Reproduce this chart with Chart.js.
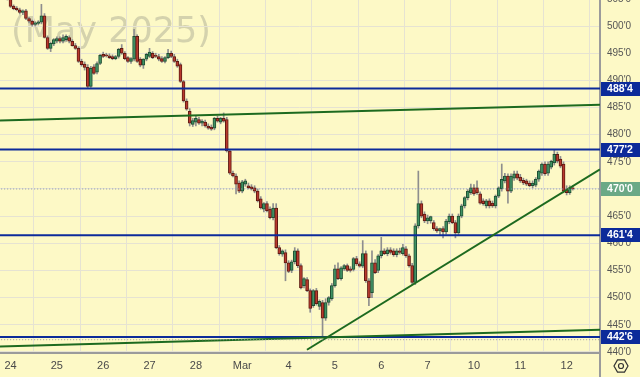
<!DOCTYPE html>
<html>
<head>
<meta charset="utf-8">
<script src="https://cdn.jsdelivr.net/npm/chart.js@4.4.1/dist/chart.umd.min.js"></script>
<style>
  html, body { margin: 0; padding: 0; background: #fdf9c6; }
  canvas { display: block; }
</style>
</head>
<body>
<canvas id="chart" width="640" height="377"></canvas>
<script>
// day labels on the time axis and the bar index where each day starts
const dayLabels = ['24', '25', '26', '27', '28', 'Mar', '4', '5', '6', '7', '10', '11', '12'];
const dayStarts = [3, 18, 33, 48, 63, 78, 93, 108, 123, 138, 153, 168, 183];

// hourly candles
const opens = [
  506.5, 506.0, 505.6, 505.0, 503.7, 503.3, 503.0, 502.5, 502.8, 501.4,
  500.9, 500.3, 500.5, 500.7, 501.9, 497.9, 495.9, 496.7, 497.2, 497.7,
  497.2, 497.5, 497.9, 497.2, 496.4, 495.9, 493.5, 493.0, 492.4, 488.9,
  492.5, 491.5, 493.1, 494.8, 494.7, 494.5, 494.4, 494.0, 494.4, 495.9,
  495.0, 494.2, 493.5, 493.9, 498.1, 493.9, 492.8, 493.9, 494.4, 495.0,
  494.6, 494.4, 494.0, 493.5, 494.2, 495.0, 494.4, 493.5, 492.9, 489.8,
  486.2, 484.3, 481.9, 482.3, 482.8, 482.1, 482.3, 481.6, 481.4, 481.2,
  483.0, 482.3, 483.0, 482.8, 477.0, 472.9, 472.4, 471.1, 469.6, 470.9,
  470.6, 470.4, 470.2, 469.6, 468.2, 466.3, 467.3, 466.3, 464.7, 466.5,
  459.2, 458.0, 458.3, 456.4, 455.0, 456.6, 458.6, 455.9, 452.2, 453.3,
  451.3, 448.5, 451.3, 448.4, 449.1, 446.2, 449.1, 449.8, 452.2, 455.3,
  453.5, 455.3, 455.9, 455.3, 455.2, 457.2, 456.2, 455.8, 458.1, 453.1,
  450.9, 456.4, 455.0, 457.7, 458.6, 458.1, 458.8, 458.6, 457.9, 458.6,
  458.1, 459.0, 457.7, 455.9, 452.8, 463.2, 467.3, 465.4, 464.1, 464.1,
  463.8, 462.7, 462.3, 462.7, 462.1, 464.0, 465.0, 463.8, 461.9, 465.0,
  466.9, 468.4, 469.3, 470.2, 470.2, 469.1, 467.8, 466.9, 467.8, 467.4,
  466.9, 468.7, 470.0, 471.5, 472.4, 469.6, 472.0, 472.8, 472.2, 471.6,
  471.5, 471.1, 470.6, 470.7, 471.8, 472.9, 474.6, 472.9, 474.0, 474.8,
  476.4, 475.5, 474.6, 470.0, 469.3, 470.2
];
const highs = [
  507.2, 506.6, 506.0, 505.3, 503.9, 503.6, 503.3, 503.0, 503.1, 501.6,
  501.1, 500.8, 501.0, 504.0, 502.3, 498.2, 497.0, 497.7, 498.0, 498.0,
  498.4, 498.4, 498.2, 497.5, 496.8, 496.2, 493.9, 493.4, 492.9, 492.6,
  492.9, 493.4, 494.8, 495.2, 495.0, 494.9, 494.7, 494.6, 495.9, 496.6,
  495.3, 494.4, 494.2, 499.4, 498.4, 494.2, 494.0, 495.0, 495.9, 495.3,
  495.0, 494.8, 494.4, 494.4, 495.7, 495.4, 494.8, 493.9, 493.2, 490.0,
  486.6, 484.8, 483.0, 483.4, 483.2, 482.8, 482.7, 482.0, 481.8, 483.2,
  483.4, 483.2, 484.0, 483.2, 477.3, 473.3, 472.8, 471.5, 471.6, 471.8,
  471.1, 470.8, 470.6, 470.0, 468.6, 467.5, 467.7, 466.7, 467.3, 467.3,
  459.6, 458.8, 458.8, 456.8, 456.9, 459.2, 459.0, 456.2, 453.7, 453.7,
  451.6, 451.5, 451.7, 449.6, 449.5, 449.8, 450.2, 452.6, 456.0, 456.4,
  455.7, 456.1, 456.2, 455.7, 457.4, 457.6, 456.6, 460.5, 458.6, 453.5,
  458.6, 457.0, 457.9, 461.1, 459.0, 459.2, 459.2, 459.0, 459.0, 459.1,
  459.8, 459.4, 458.0, 456.3, 463.6, 473.3, 467.8, 465.8, 465.2, 465.0,
  464.2, 463.1, 462.8, 463.1, 464.4, 465.4, 465.4, 464.2, 465.4, 467.2,
  468.6, 469.9, 470.9, 470.8, 471.5, 469.5, 468.2, 468.1, 468.2, 467.8,
  468.9, 470.4, 474.6, 472.9, 472.8, 472.8, 473.3, 473.3, 472.7, 472.0,
  471.8, 471.5, 471.5, 472.1, 473.5, 474.8, 475.0, 475.0, 475.3, 477.3,
  476.8, 476.0, 475.0, 470.6, 470.6, 470.6
];
const lows = [
  505.8, 505.2, 504.8, 503.4, 503.0, 502.8, 502.2, 502.1, 501.2, 500.6,
  500.0, 500.0, 500.2, 500.4, 497.8, 495.7, 495.3, 496.4, 496.9, 496.9,
  496.9, 497.2, 496.9, 496.3, 495.7, 493.3, 492.6, 491.9, 488.6, 488.7,
  491.1, 491.2, 492.9, 494.2, 494.3, 494.0, 493.8, 493.8, 494.1, 494.8,
  493.8, 493.3, 493.1, 493.6, 493.3, 492.5, 492.2, 493.6, 494.2, 494.0,
  494.2, 493.6, 493.3, 493.2, 494.0, 494.2, 493.3, 492.4, 489.6, 486.0,
  484.5, 481.6, 481.5, 481.6, 481.9, 481.6, 481.4, 481.0, 480.8, 480.9,
  482.3, 482.0, 482.3, 476.8, 472.7, 472.2, 469.1, 469.3, 469.3, 470.5,
  470.0, 469.8, 469.3, 467.6, 466.3, 465.8, 465.8, 464.5, 464.3, 459.0,
  457.8, 457.6, 453.1, 454.6, 454.6, 456.2, 455.5, 451.6, 451.8, 451.1,
  447.3, 448.2, 448.6, 447.8, 442.8, 445.8, 448.6, 449.5, 451.9, 453.3,
  453.2, 455.0, 454.8, 454.7, 454.9, 455.9, 455.6, 455.5, 452.8, 448.5,
  450.0, 454.4, 454.6, 457.3, 457.9, 457.7, 458.0, 457.6, 457.5, 458.0,
  457.8, 457.4, 455.6, 452.4, 452.4, 462.8, 464.7, 463.8, 463.6, 463.7,
  462.4, 462.0, 461.6, 461.0, 461.7, 463.6, 463.6, 461.0, 461.5, 464.7,
  466.5, 468.0, 469.0, 468.8, 469.0, 467.2, 467.0, 466.5, 466.5, 466.6,
  466.5, 468.4, 469.6, 471.1, 467.4, 469.3, 471.6, 471.7, 471.2, 470.8,
  470.6, 470.4, 470.2, 470.4, 471.4, 472.5, 472.5, 472.5, 473.7, 474.4,
  474.8, 473.9, 469.3, 468.9, 469.0, 469.8
];
const closes = [
  506.0, 505.6, 505.2, 503.6, 503.2, 503.0, 502.5, 502.8, 501.4, 500.9,
  500.3, 500.6, 500.8, 501.9, 497.9, 495.9, 496.8, 497.5, 497.7, 497.2,
  497.9, 498.1, 497.2, 496.4, 495.9, 493.5, 492.9, 492.4, 488.9, 492.2,
  491.3, 493.1, 494.6, 494.4, 494.5, 494.2, 494.0, 494.4, 495.7, 495.0,
  494.0, 493.5, 494.0, 498.1, 493.5, 492.8, 493.9, 494.8, 495.2, 494.2,
  494.4, 493.9, 493.5, 494.2, 495.0, 494.4, 493.5, 492.6, 489.8, 486.2,
  484.7, 482.1, 482.6, 483.0, 482.1, 482.5, 481.6, 481.2, 481.0, 483.0,
  482.5, 483.0, 482.5, 477.0, 472.9, 472.4, 470.9, 469.6, 471.3, 471.5,
  470.2, 470.0, 469.6, 467.8, 466.5, 467.3, 466.0, 464.7, 466.5, 459.2,
  458.1, 458.6, 456.4, 454.8, 456.6, 458.6, 455.9, 451.8, 453.5, 451.3,
  448.0, 451.3, 448.9, 449.3, 446.2, 449.1, 450.0, 452.2, 455.3, 453.5,
  455.5, 455.9, 455.0, 455.0, 457.2, 456.2, 455.8, 458.1, 453.1, 450.0,
  456.4, 454.6, 457.7, 458.6, 458.1, 458.8, 458.3, 457.9, 458.6, 458.3,
  459.2, 457.7, 455.9, 452.8, 463.2, 467.3, 465.0, 464.1, 464.7, 464.9,
  462.7, 462.3, 462.7, 462.1, 464.1, 465.0, 463.8, 461.9, 465.0, 466.9,
  468.4, 469.6, 470.2, 469.1, 469.3, 467.4, 467.3, 467.8, 466.9, 466.9,
  468.7, 470.2, 471.8, 472.4, 469.6, 472.4, 472.8, 472.0, 471.5, 471.1,
  470.9, 470.6, 471.1, 471.8, 473.3, 474.6, 472.8, 474.6, 475.1, 476.4,
  475.1, 474.2, 469.6, 469.3, 470.2, 470.0
];

// price axis ticks and drawn levels
const yTicks = [440, 445, 450, 455, 460, 465, 470, 475, 480, 485, 490, 495, 500, 505];
const levels = [488.5, 477.25, 461.5, 442.75];
const lastPrice = 470.0;
const lowMark = 442.25;
// trend lines as [bar index, price] end points
const trendUpper = [[-0.4, 482.6], [193.8, 485.5]];
const trendLower = [[-0.4, 441.0], [193.8, 444.1]];
const trendRise = [[98.95, 440.4], [193.8, 473.6]];

const BG = '#fdf9c6';
const GRID = '#e6e3d2';
const BLUE = '#0c2b9a';
const GREEN_LINE = '#1d6a1f';

function fmtPrice(v) {
    const whole = Math.floor(v + 1e-9);
    return whole + "'" + Math.round((v - whole) * 8);
}

function lineSet(points, color, width, dash) {
    return {
        type: 'line',
        data: points.map(p => ({ x: p[0], y: p[1] })),
        borderColor: color,
        borderWidth: width,
        borderDash: dash || [],
        pointRadius: 0,
        order: -1
    };
}

const idx = opens.map((_, i) => i);
const isUp = i => closes[i] >= opens[i];

const datasets = [
    {
        data: idx.map(i => ({ x: i, y: [opens[i], closes[i]] })),
        backgroundColor: c => isUp(c.dataIndex) ? '#3f9163' : '#b8392d',
        borderColor: c => isUp(c.dataIndex) ? '#1f4f33' : '#5e1a13',
        borderWidth: 1,
        borderSkipped: false,
        barThickness: 3,
        minBarLength: 1,
        grouped: false,
        order: 0
    },
    {
        data: idx.map(i => ({ x: i, y: [lows[i], highs[i]] })),
        backgroundColor: '#8e8e8e',
        barThickness: 1,
        grouped: false,
        order: 1
    },
    lineSet([[-1, lastPrice], [200, lastPrice]], '#8a98aa', 1, [1, 2]),
    lineSet([[-1, lowMark], [200, lowMark]], '#9a9a9a', 1, [1, 2]),
    lineSet(trendUpper, GREEN_LINE, 2),
    lineSet(trendLower, GREEN_LINE, 2),
    lineSet(trendRise, GREEN_LINE, 2)
];
levels.forEach(v => datasets.push(lineSet([[-1, v], [200, v]], BLUE, 2)));

// background, watermark, price boxes, settings icon
const decor = {
    id: 'decor',
    beforeDraw(chart) {
        const ctx = chart.ctx;
        ctx.save();
        ctx.fillStyle = BG;
        ctx.fillRect(0, 0, chart.width, chart.height);
        ctx.font = '35px "DejaVu Sans"';
        ctx.fillStyle = 'rgba(130,130,120,0.33)';
        ctx.textBaseline = 'alphabetic';
        ctx.fillText('(May 2025)', 11, 42);
        ctx.restore();
    },
    afterDraw(chart) {
        const ctx = chart.ctx;
        const y = chart.scales.y;
        const area = chart.chartArea;
        ctx.save();
        ctx.strokeStyle = '#9b9b9b';
        ctx.lineWidth = 2;
        ctx.beginPath();
        ctx.moveTo(area.right, area.bottom);
        ctx.lineTo(area.right, chart.height);
        ctx.stroke();

        const box = (v, color) => {
            const py = Math.round(y.getPixelForValue(v));
            ctx.fillStyle = color;
            ctx.fillRect(area.right + 1, py - 7, chart.width - area.right - 1, 14);
            ctx.fillStyle = '#ffffff';
            ctx.font = 'bold 10.5px "Liberation Sans"';
            ctx.textAlign = 'center';
            ctx.textBaseline = 'middle';
            ctx.fillText(fmtPrice(v), area.right + 20, py + 0.5);
        };
        levels.forEach(v => box(v, BLUE));
        box(lastPrice, '#6aa986');

        // settings icon
        const cx = 621, cy = 366, r = 7;
        ctx.strokeStyle = '#333333';
        ctx.lineWidth = 1.2;
        ctx.beginPath();
        for (let k = 0; k < 6; k++) {
            const a = Math.PI / 3 * k;
            const px = cx + r * Math.cos(a), py = cy + r * Math.sin(a);
            if (k === 0) ctx.moveTo(px, py); else ctx.lineTo(px, py);
        }
        ctx.closePath();
        ctx.stroke();
        ctx.beginPath();
        ctx.arc(cx, cy, 2.5, 0, Math.PI * 2);
        ctx.stroke();
        ctx.restore();
    }
};

new Chart(document.getElementById('chart'), {
    type: 'bar',
    data: { datasets: datasets },
    plugins: [decor],
    options: {
        responsive: false,
        animation: false,
        devicePixelRatio: 1,
        layout: { padding: 0 },
        plugins: { legend: { display: false }, tooltip: { enabled: false } },
        scales: {
            x: {
                type: 'linear',
                min: -0.4,
                max: 193.8,
                offset: false,
                afterBuildTicks: scale => { scale.ticks = dayStarts.map(v => ({ value: v })); },
                afterFit: scale => { scale.height = 24; scale.paddingLeft = 0; scale.paddingRight = 0; },
                ticks: {
                    autoSkip: false,
                    maxRotation: 0,
                    padding: 6,
                    color: '#4a4a4a',
                    font: { size: 11, family: '"Liberation Sans"' },
                    callback: v => dayLabels[dayStarts.indexOf(v)]
                },
                grid: { color: GRID, drawTicks: false },
                border: { display: true, color: '#9b9b9b', width: 2 }
            },
            y: {
                position: 'right',
                min: 439.8,
                max: 504.8,
                afterBuildTicks: scale => { scale.ticks = yTicks.map(v => ({ value: v })); },
                afterFit: scale => { scale.width = 40; scale.paddingTop = 0; scale.paddingBottom = 0; },
                ticks: {
                    padding: 7,
                    color: '#555555',
                    font: { size: 10, family: '"Liberation Sans"' },
                    callback: v => fmtPrice(v)
                },
                grid: { color: GRID, drawTicks: false },
                border: { display: true, color: '#9b9b9b', width: 2 }
            }
        }
    }
});
</script>
</body>
</html>
